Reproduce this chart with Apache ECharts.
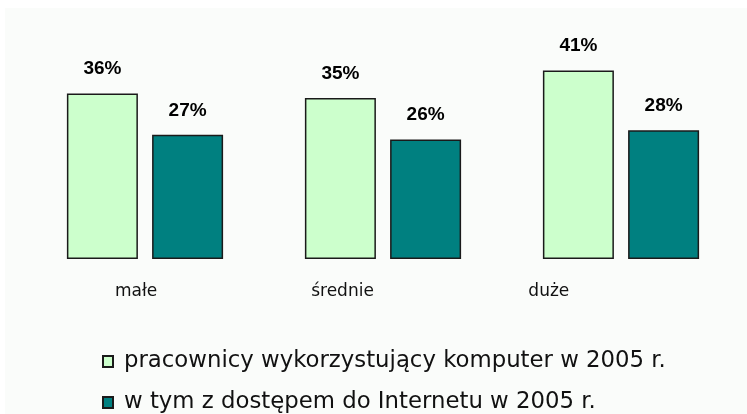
<!DOCTYPE html>
<html>
<head>
<meta charset="utf-8">
<script src="https://cdn.jsdelivr.net/npm/echarts@6/dist/echarts.min.js"></script>
<style>
  html, body { margin: 0; padding: 0; background: #fff; }
  #chart { width: 747px; height: 414px; }
</style>
</head>
<body>
<div id="chart"></div>
<script>
// sizes of firms
const categories = ['małe', 'średnie', 'duże'];
const seriesNames = [
  'pracownicy wykorzystujący komputer w 2005 r.',
  'w tym z dostępem do Internetu w 2005 r.'
];
const computerUse = [36, 35, 41];
const internetUse = [27, 26, 28];

const labelStyle = {
  show: true,
  position: 'top',
  distance: 15,
  formatter: '{c}%',
  fontFamily: 'Liberation Sans',
  fontWeight: 'bold',
  fontSize: 19,
  color: '#000'
};

// one legend per row, stacked like the original
function legendRow(name, top) {
  return {
    left: 102,
    top: top,
    padding: 0,
    itemWidth: 10,
    itemHeight: 11,
    icon: 'rect',
    textStyle: {
      fontFamily: 'DejaVu Sans',
      fontSize: 22.8,
      color: '#111',
      padding: [0, 0, 0, 6]
    },
    data: [name]
  };
}

const chart = echarts.init(document.getElementById('chart'));
chart.setOption({
  animation: false,
  backgroundColor: '#ffffff',
  graphic: [{
    type: 'rect',
    left: 5, top: 8,
    shape: { width: 742, height: 406 },
    style: { fill: '#fafcfa' },
    z: -10
  }],
  grid: [
    { left: 26, width: 714, top: 29, height: 230 },
    // labels in the original sit on a narrower spacing than the bars
    { left: 33, width: 619, top: 29, height: 230 }
  ],
  xAxis: [{
    type: 'category',
    data: categories,
    gridIndex: 0,
    axisLine: { show: false },
    axisTick: { show: false },
    axisLabel: { show: false }
  }, {
    type: 'category',
    data: categories,
    gridIndex: 1,
    axisLine: { show: false },
    axisTick: { show: false },
    axisLabel: {
      margin: 24,
      fontFamily: 'DejaVu Sans',
      fontSize: 17,
      color: '#111'
    }
  }],
  yAxis: [{
    type: 'value',
    gridIndex: 0,
    min: 0,
    max: 50,
    show: false,
    splitLine: { show: false }
  }, {
    type: 'value',
    gridIndex: 1,
    min: 0,
    max: 50,
    show: false,
    splitLine: { show: false }
  }],
  legend: [
    legendRow(seriesNames[0], 350),
    legendRow(seriesNames[1], 391)
  ],
  series: [{
    name: seriesNames[0],
    type: 'bar',
    data: computerUse,
    barWidth: 71,
    barGap: '20%',
    itemStyle: { color: '#ccffcc', borderColor: '#1a1a1a', borderWidth: 1.5 },
    label: labelStyle
  }, {
    name: seriesNames[1],
    type: 'bar',
    data: internetUse,
    barWidth: 71,
    itemStyle: { color: '#008080', borderColor: '#1a1a1a', borderWidth: 1.5 },
    label: labelStyle
  }]
});
</script>
</body>
</html>
